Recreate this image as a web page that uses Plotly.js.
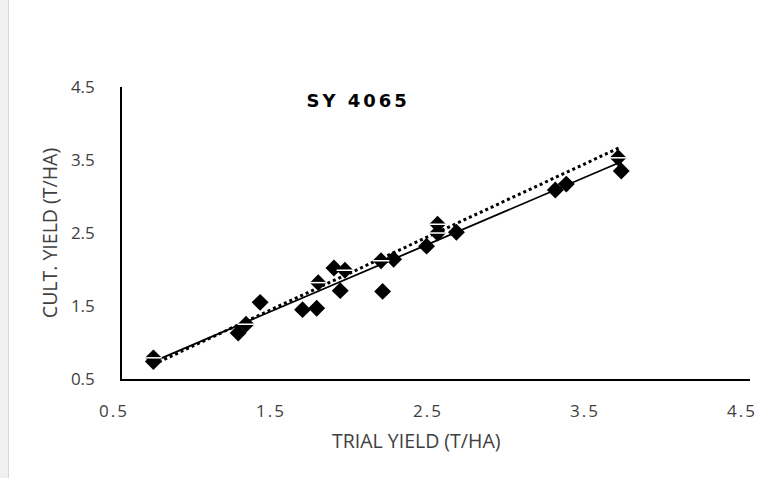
<!DOCTYPE html>
<html>
<head>
<meta charset="utf-8">
<script src="https://cdn.plot.ly/plotly-3.0.1.min.js"></script>
<style>
  html, body { margin: 0; padding: 0; background: #ffffff; }
  #wrap { position: relative; width: 779px; height: 478px; }
  #chart { width: 779px; height: 478px; }
  #strip { position: absolute; left: 0; top: 0; width: 8px; height: 478px; background: #f0f0f0; border-right: 1px solid #d9d9d9; }
  .annotation[data-index="0"] .annotation-text { letter-spacing: 3px; }
  .xtick text { letter-spacing: 2px; }
</style>
</head>
<body>
<div id="wrap">
  <div id="chart"></div>
  <div id="strip"></div>
</div>
<script>
// Series A: plain black diamonds
const trialA = [0.70, 1.24, 1.38, 1.65, 1.74, 1.85, 1.89, 2.16, 2.23, 2.44, 2.63, 3.26, 3.33, 3.68];
const cultA  = [0.74, 1.13, 1.55, 1.45, 1.47, 2.02, 1.71, 1.70, 2.14, 2.32, 2.51, 3.09, 3.17, 3.35];
// Series B: barred diamonds
const trialB = [0.70, 1.29, 1.75, 1.92, 2.15, 2.51, 2.51, 3.66];
const cultB  = [0.79, 1.25, 1.82, 1.99, 2.12, 2.62, 2.50, 3.53];
const tickVals = [0.5, 1.5, 2.5, 3.5, 4.5];
const tickText = ['0.5', '1.5', '2.5', '3.5', '4.5'];
const chartTitle = 'SY 4065';
const xTitle = 'TRIAL YIELD (T/HA)';
const yTitle = 'CULT. YIELD (T/HA)';

function fit(xs, ys) {
  const n = xs.length;
  const mx = xs.reduce((a, b) => a + b, 0) / n;
  const my = ys.reduce((a, b) => a + b, 0) / n;
  let sxy = 0, sxx = 0;
  for (let i = 0; i < n; i++) { sxy += (xs[i] - mx) * (ys[i] - my); sxx += (xs[i] - mx) * (xs[i] - mx); }
  const m = sxy / sxx, b = my - m * mx;
  const x0 = Math.min(...xs), x1 = Math.max(...xs);
  return { x: [x0, x1], y: [m * x0 + b, m * x1 + b] };
}
const allX = trialA.concat(trialB);
const allY = cultA.concat(cultB);
const fAll = fit(allX, allY);
// 1:1 reference line across the trial range
const oneX = [Math.min(...allX), Math.max(...allX)];
const oneY = oneX.slice();

const traces = [
  { x: fAll.x, y: fAll.y, mode: 'lines', line: { color: '#000000', width: 1.8 }, hoverinfo: 'skip' },
  { x: oneX, y: oneY, mode: 'lines', line: { color: '#000000', width: 3, dash: 'dot' }, hoverinfo: 'skip' },
  { x: trialA, y: cultA, mode: 'markers', marker: { symbol: 'diamond', size: 13, color: '#000000' } },
  { x: trialB, y: cultB, mode: 'markers', marker: { symbol: 'diamond', size: 13, color: '#000000' } },
  { x: trialB, y: cultB, mode: 'markers', marker: { symbol: 'line-ew', size: 12, color: '#ffffff', line: { color: '#ffffff', width: 1.5 } } }
];

const layout = {
  width: 779, height: 478,
  margin: { l: 122, r: 29, t: 87, b: 99 },
  paper_bgcolor: '#ffffff', plot_bgcolor: '#ffffff',
  showlegend: false,
  font: { family: 'Open Sans, DejaVu Sans, sans-serif', color: '#404040' },
  xaxis: {
    range: [0.5, 4.5], tickvals: tickVals, ticktext: tickText,
    showgrid: false, zeroline: false, showline: true, linecolor: '#000000', linewidth: 1.8,
    ticks: '', ticklabelstandoff: 16, ticklabelshift: -8,
    tickfont: { family: 'Open Sans, sans-serif', size: 17, color: '#404040' }
  },
  yaxis: {
    range: [0.5, 4.5], tickvals: tickVals, ticktext: tickText,
    showgrid: false, zeroline: false, showline: true, linecolor: '#000000', linewidth: 1.8,
    ticks: '', ticklabelstandoff: 22,
    tickfont: { family: 'Open Sans, sans-serif', size: 17, color: '#404040' },
    title: { text: yTitle, font: { family: 'Open Sans, sans-serif', size: 19.5, color: '#404040' }, standoff: 8 }
  },
  annotations: [{
    xref: 'paper', yref: 'paper', x: 0.375, y: 0.955, xanchor: 'center', yanchor: 'middle',
    text: '<b>' + chartTitle + '</b>', showarrow: false,
    font: { family: 'DejaVu Sans, sans-serif', size: 18, color: '#000000' }
  }, {
    xref: 'paper', yref: 'paper', x: 0.468, y: -0.212, xanchor: 'center', yanchor: 'middle',
    text: xTitle, showarrow: false,
    font: { family: 'Open Sans, sans-serif', size: 19.5, color: '#404040' }
  }]
};

Plotly.newPlot('chart', traces, layout, { displayModeBar: false, staticPlot: true });
</script>
</body>
</html>
